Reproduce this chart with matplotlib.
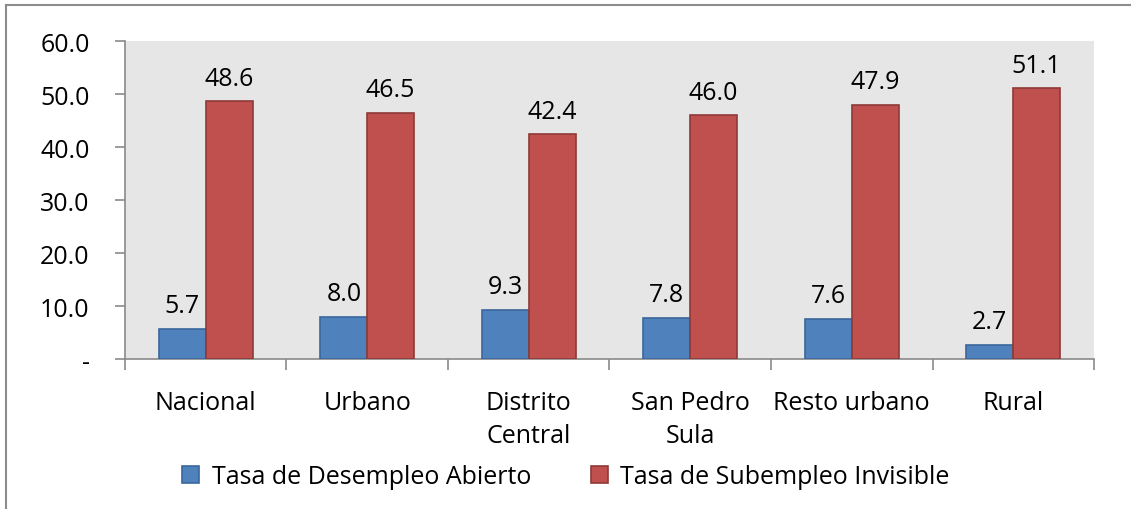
import matplotlib.pyplot as plt
import numpy as np
from matplotlib.lines import Line2D

CATEGORIES = ['Nacional', 'Urbano', 'Distrito\nCentral', 'San Pedro\nSula', 'Resto urbano', 'Rural']
DESEMPLEO = [5.7, 8.0, 9.3, 7.8, 7.6, 2.7]
SUBEMPLEO = [48.6, 46.5, 42.4, 46.0, 47.9, 51.1]
SERIES_NAMES = ['Tasa de Desempleo Abierto', 'Tasa de Subempleo Invisible']
Y_TICKS = [0, 10, 20, 30, 40, 50, 60]
Y_TICK_LABELS = ['-', '10.0', '20.0', '30.0', '40.0', '50.0', '60.0']

BLUE, BLUE_EDGE = '#4F81BD', '#3A679C'
RED, RED_EDGE = '#C0504D', '#8E3A38'
AXIS_GREY = '#8A8A8A'
FS = 18

plt.rcParams['font.family'] = ['Open Sans', 'DejaVu Sans']

fig = plt.figure(figsize=(11.31, 5.10), dpi=100)
ax = fig.add_axes([0.1105, 0.2941, 0.8568, 0.6235])
ax.set_facecolor('#E6E6E6')

x = np.arange(len(CATEGORIES))
w = 0.29
b1 = ax.bar(x - w / 2, DESEMPLEO, w, color=BLUE, edgecolor=BLUE_EDGE, linewidth=1.2,
            label=SERIES_NAMES[0], zorder=3)
b2 = ax.bar(x + w / 2, SUBEMPLEO, w, color=RED, edgecolor=RED_EDGE, linewidth=1.2,
            label=SERIES_NAMES[1], zorder=3)

# data labels above each bar
for rects, vals in ((b1, DESEMPLEO), (b2, SUBEMPLEO)):
    for r, v in zip(rects, vals):
        ax.annotate('%.1f' % v, xy=(r.get_x() + r.get_width() / 2, v), xytext=(0, 12),
                    textcoords='offset points', ha='center', va='baseline', fontsize=FS, zorder=4)

ax.set_xlim(-0.5, len(CATEGORIES) - 0.5)
ax.set_ylim(0, 60)
ax.set_yticks(Y_TICKS)
ax.set_yticklabels(Y_TICK_LABELS, fontsize=FS)

# category labels between boundary ticks
ax.set_xticks(np.arange(len(CATEGORIES) + 1) - 0.5)
ax.set_xticklabels([])
ax.set_xticks(x, minor=True)
ax.set_xticklabels(CATEGORIES, minor=True, fontsize=FS, linespacing=1.45)
ax.tick_params(axis='x', which='minor', length=0, pad=22)
ax.tick_params(axis='x', which='major', length=8, color=AXIS_GREY, width=1.2)
ax.tick_params(axis='y', length=7.5, color=AXIS_GREY, width=1.2, pad=18)

for s in ('top', 'right'):
    ax.spines[s].set_visible(False)
for s in ('left', 'bottom'):
    ax.spines[s].set_color(AXIS_GREY)
    ax.spines[s].set_linewidth(1.2)

ax.legend(loc='center', bbox_to_anchor=(0.455, -0.37), ncol=2, frameon=False,
          fontsize=FS, handlelength=0.68, handleheight=0.68, handletextpad=0.5,
          columnspacing=2.4)

# outer chart frame (only left and top visible in the crop)
fig.add_artist(Line2D([6 / 1131, 6 / 1131], [0, 1 - 6 / 510], color='#8C8C8C', lw=1.5))
fig.add_artist(Line2D([6 / 1131, 1], [1 - 6 / 510, 1 - 6 / 510], color='#8C8C8C', lw=1.5))

fig.savefig('out.png', dpi=100)
